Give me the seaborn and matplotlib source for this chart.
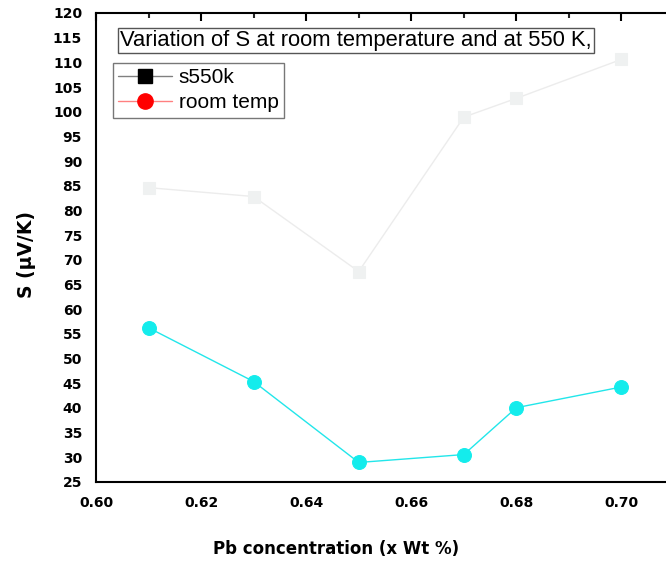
import matplotlib
matplotlib.use("Agg")
import matplotlib.pyplot as plt
from matplotlib.lines import Line2D
from matplotlib.ticker import MultipleLocator, FormatStrFormatter
import seaborn as sns
import pandas as pd

# data
pb_conc = [0.61, 0.63, 0.65, 0.67, 0.68, 0.70]
s550k = [84.6, 82.8, 67.6, 98.9, 102.7, 110.6]
room_temp = [56.2, 45.3, 28.9, 30.5, 40.0, 44.2]
series_labels = ["s550k", "room temp"]
title_text = "Variation of S at room temperature and at 550 K,"
x_label = "Pb concentration (x Wt %)"
y_label = "S (\u03bcV/K)"

df = pd.DataFrame({"x": pb_conc, "s550k": s550k, "room": room_temp})

sns.set_style("white")
plt.rcParams["font.family"] = ["Liberation Sans", "DejaVu Sans"]
plt.rcParams["text.color"] = "black"

fig = plt.figure(figsize=(6.66, 5.67), dpi=100)
W, H = 666, 567
left, right, top, bottom = 96, 674, 13, 481.7
ax = fig.add_axes([left / W, 1 - bottom / H, (right - left) / W, (bottom - top) / H])

sns.lineplot(data=df, x="x", y="s550k", ax=ax, color="#ececec", linewidth=1.0,
             marker="s", markersize=9, markerfacecolor="#eff1f1",
             markeredgecolor="#eff1f1", legend=False)
sns.lineplot(data=df, x="x", y="room", ax=ax, color="#22e6ea", linewidth=1.0,
             marker="o", markersize=10, markerfacecolor="#14ecec",
             markeredgecolor="#14ecec", legend=False)

ax.set_xlim(0.60, 0.71)
ax.set_ylim(25, 120)
ax.xaxis.set_major_locator(MultipleLocator(0.02))
ax.xaxis.set_minor_locator(MultipleLocator(0.01))
ax.yaxis.set_major_locator(MultipleLocator(5))
ax.yaxis.set_minor_locator(MultipleLocator(2.5))
ax.xaxis.set_major_formatter(FormatStrFormatter("%.2f"))
ax.yaxis.set_major_formatter(FormatStrFormatter("%d"))

for sp in ax.spines.values():
    sp.set_visible(True)
    sp.set_color("black")
    sp.set_linewidth(1.5)

ax.tick_params(axis="both", which="major", direction="out", length=6, width=1.5,
               labelsize=10, colors="black", pad=4)
ax.tick_params(axis="both", which="minor", direction="out", length=3.5, width=1.5)
ax.tick_params(axis="both", which="both", top=True, right=True)
for lbl in ax.get_xticklabels() + ax.get_yticklabels():
    lbl.set_fontweight("bold")
    lbl.set_family("DejaVu Sans")

# top/right inward ticks
for t in ax.xaxis.get_major_ticks() + ax.xaxis.get_minor_ticks():
    t.tick2line.set_marker(3)  # TICKDOWN
for t in ax.yaxis.get_major_ticks() + ax.yaxis.get_minor_ticks():
    t.tick2line.set_marker(0)  # TICKLEFT

ax.set_xlabel("")
ax.set_ylabel("")
fig.text(336 / W, 1 - 549 / H, x_label, fontsize=12, fontweight="bold",
         family="DejaVu Sans", ha="center", va="center", color="black")
fig.text(26 / W, 1 - 254 / H, y_label, fontsize=13.5, fontweight="bold",
         family="DejaVu Sans", ha="center", va="center", rotation=90, color="black")

# title box
ax.text((120 - left) / (right - left), 1 - (40.5 - top) / (bottom - top), title_text,
        transform=ax.transAxes, fontsize=15.8, ha="left", va="center", color="black",
        bbox=dict(boxstyle="square,pad=0.1", facecolor="white",
                  edgecolor="#555555", linewidth=1.0))

handles = [
    Line2D([], [], color="#808080", linewidth=1, marker="s", markersize=9.5,
           markerfacecolor="black", markeredgecolor="black"),
    Line2D([], [], color="#ff8080", linewidth=1, marker="o", markersize=11,
           markerfacecolor="red", markeredgecolor="red"),
]
leg = ax.legend(handles, series_labels, loc="upper left",
                bbox_to_anchor=((113 - left) / (right - left), 1 - (63 - top) / (bottom - top)),
                fontsize=15, frameon=True, fancybox=False, borderpad=0.25,
                handlelength=2.6, handletextpad=0.3, labelspacing=0.3,
                borderaxespad=0)
leg.get_frame().set_edgecolor("#555555")
leg.get_frame().set_linewidth(1.0)
for txt in leg.get_texts():
    txt.set_color("black")

fig.savefig("out.png", dpi=100)
